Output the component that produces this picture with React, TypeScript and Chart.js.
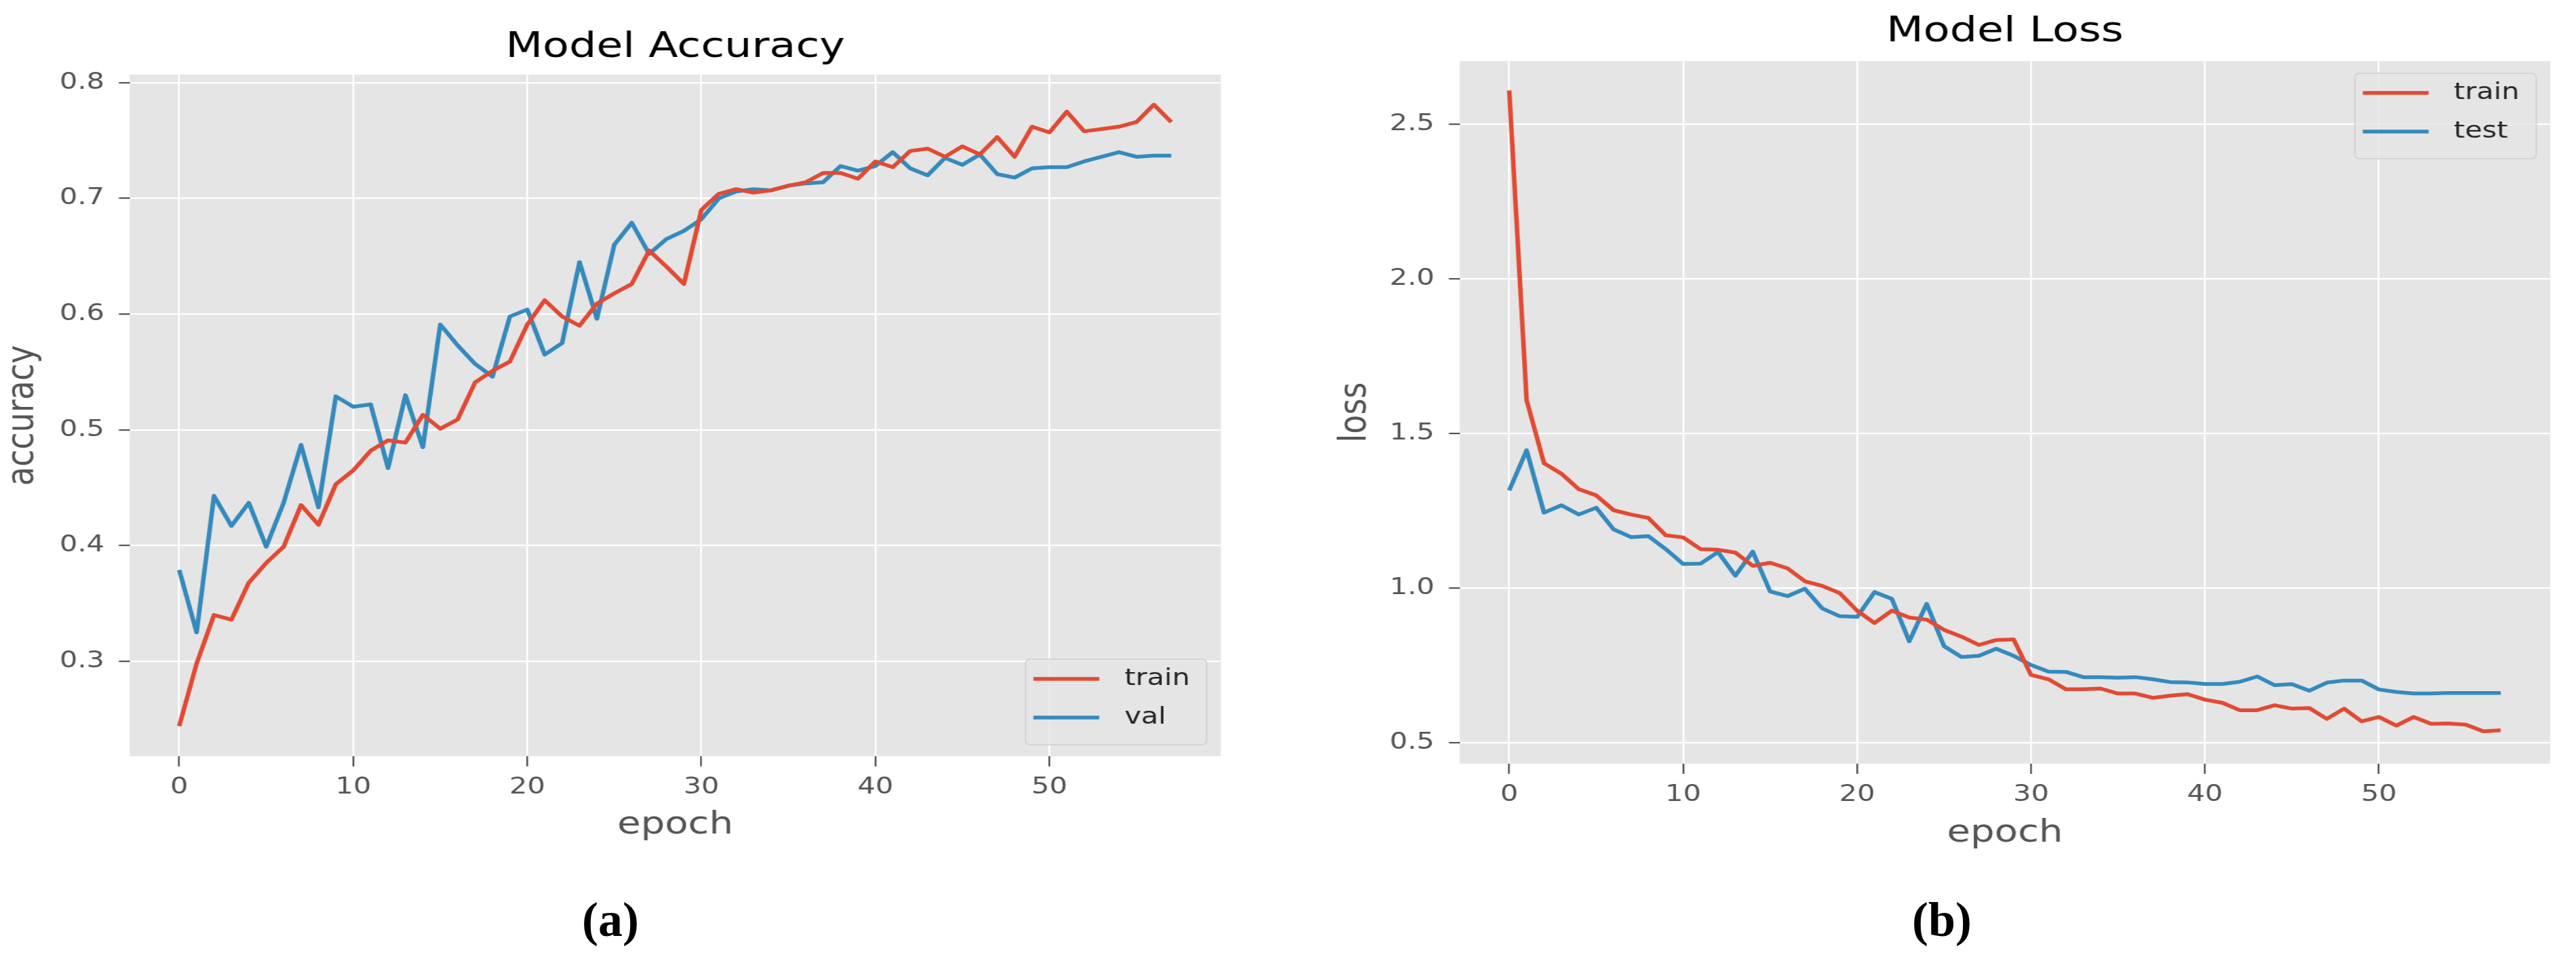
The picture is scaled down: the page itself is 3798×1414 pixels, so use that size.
import React, { useEffect, useRef } from "react";
import { Chart, registerables } from "chart.js";

Chart.register(...registerables);

// ---------------- data ----------------
const epochs = [
  0, 1, 2, 3, 4, 5, 6, 7, 8, 9, 10, 11, 12, 13, 14, 15, 16, 17, 18, 19,
  20, 21, 22, 23, 24, 25, 26, 27, 28, 29, 30, 31, 32, 33, 34, 35, 36, 37, 38, 39,
  40, 41, 42, 43, 44, 45, 46, 47, 48, 49, 50, 51, 52, 53, 54, 55, 56, 57,
];

const accTrain = [
  0.244, 0.298, 0.340, 0.336, 0.368, 0.385, 0.399, 0.435, 0.418, 0.453,
  0.465, 0.482, 0.491, 0.489, 0.513, 0.501, 0.509, 0.541, 0.551, 0.559,
  0.591, 0.612, 0.598, 0.590, 0.609, 0.618, 0.626, 0.655, 0.641, 0.626,
  0.690, 0.704, 0.708, 0.705, 0.707, 0.711, 0.714, 0.722, 0.722, 0.717,
  0.732, 0.727, 0.741, 0.743, 0.736, 0.745, 0.738, 0.753, 0.736, 0.762,
  0.757, 0.775, 0.758, 0.760, 0.762, 0.766, 0.781, 0.766,
];

const accVal = [
  0.379, 0.325, 0.443, 0.417, 0.437, 0.399, 0.437, 0.487, 0.433, 0.529,
  0.520, 0.522, 0.467, 0.530, 0.485, 0.591, 0.573, 0.557, 0.546, 0.598,
  0.604, 0.565, 0.575, 0.645, 0.596, 0.660, 0.679, 0.652, 0.665, 0.672,
  0.682, 0.700, 0.706, 0.708, 0.707, 0.711, 0.713, 0.714, 0.728, 0.724,
  0.728, 0.740, 0.726, 0.720, 0.735, 0.729, 0.738, 0.721, 0.718, 0.726,
  0.727, 0.727, 0.732, 0.736, 0.740, 0.736, 0.737, 0.737,
];

const lossTrain = [
  2.610, 1.608, 1.404, 1.370, 1.320, 1.300, 1.252, 1.238, 1.227, 1.171,
  1.164, 1.126, 1.124, 1.115, 1.072, 1.082, 1.064, 1.022, 1.007, 0.984,
  0.927, 0.887, 0.927, 0.905, 0.898, 0.865, 0.843, 0.816, 0.832, 0.834,
  0.719, 0.705, 0.673, 0.673, 0.675, 0.659, 0.659, 0.645, 0.652, 0.657,
  0.639, 0.629, 0.605, 0.605, 0.621, 0.610, 0.612, 0.577, 0.610, 0.569,
  0.583, 0.555, 0.583, 0.561, 0.562, 0.558, 0.537, 0.540,
];

const lossTest = [
  1.316, 1.446, 1.244, 1.268, 1.238, 1.260, 1.190, 1.165, 1.168, 1.126,
  1.078, 1.079, 1.117, 1.040, 1.118, 0.989, 0.974, 0.998, 0.934, 0.909,
  0.907, 0.987, 0.965, 0.828, 0.949, 0.812, 0.777, 0.781, 0.804, 0.781,
  0.751, 0.730, 0.729, 0.712, 0.712, 0.710, 0.712, 0.705, 0.696, 0.695,
  0.690, 0.690, 0.697, 0.714, 0.686, 0.689, 0.668, 0.694, 0.701, 0.701,
  0.672, 0.664, 0.659, 0.659, 0.661, 0.661, 0.661, 0.661,
];

const xTicks = [0, 10, 20, 30, 40, 50];
const accTicks = [0.3, 0.4, 0.5, 0.6, 0.7, 0.8];
const lossTicks = [0.5, 1.0, 1.5, 2.0, 2.5];

// ---------------- style ----------------
const S = 1.22; // horizontal stretch of the figure
const RED = "#E24A33";
const BLUE = "#348ABD";
const FONT = '"DejaVu Sans", sans-serif';
Chart.defaults.font.family = FONT;

type Panel = {
  left: number;
  width: number;
  height: number;
  title: string;
  titlePadTop: number;
  titlePadBottom: number;
  yLabel: string;
  yTitlePad: number;
  yAxisW: number;
  xAxisH: number;
  xTitlePadBottom: number;
  padRight: number;
  yMin: number;
  yMax: number;
  yTicks: number[];
  series: { label: string; color: string; values: number[] }[];
  legendCorner: "lr" | "ur";
};

function makeLegend(corner: "lr" | "ur") {
  return {
    id: "mplLegend",
    afterDatasetsDraw(chart: any) {
      const a = chart.chartArea;
      const ctx = chart.ctx as CanvasRenderingContext2D;
      const w = 219;
      const h = 126;
      const x = a.right - 17 - w;
      const y = corner === "lr" ? a.bottom - 17 - h : a.top + 18;
      ctx.save();
      ctx.beginPath();
      (ctx as any).roundRect(x, y, w, h, 6);
      ctx.fillStyle = "rgba(229,229,229,0.8)";
      ctx.fill();
      ctx.strokeStyle = "#cfcfcf";
      ctx.lineWidth = 1.5;
      ctx.stroke();
      chart.data.datasets.forEach((ds: any, i: number) => {
        const cy = y + 29 + i * 57;
        ctx.beginPath();
        ctx.moveTo(x + 9.5, cy);
        ctx.lineTo(x + 89, cy);
        ctx.strokeStyle = ds.borderColor;
        ctx.lineWidth = 5.5;
        ctx.stroke();
        ctx.fillStyle = "#262626";
        ctx.font = `34px ${FONT}`;
        ctx.textAlign = "left";
        ctx.textBaseline = "middle";
        ctx.fillText(ds.label, x + 119.5, cy);
      });
      ctx.restore();
    },
  };
}

const bgPlugin = {
  id: "plotBg",
  beforeDraw(chart: any) {
    const a = chart.chartArea;
    const ctx = chart.ctx;
    ctx.save();
    ctx.fillStyle = "#E5E5E5";
    ctx.fillRect(a.left, a.top, a.right - a.left, a.bottom - a.top);
    ctx.restore();
  },
};

function ChartPanel({ p }: { p: Panel }) {
  const ref = useRef<HTMLCanvasElement | null>(null);
  useEffect(() => {
    if (!ref.current) return;
    const chart = new Chart(ref.current, {
      type: "line",
      data: {
        datasets: p.series.map((s) => ({
          label: s.label,
          data: epochs.map((e, i) => ({ x: e, y: s.values[i] })),
          borderColor: s.color,
          backgroundColor: s.color,
          borderWidth: 5.5,
          pointRadius: 0,
          tension: 0,
          fill: false,
          borderJoinStyle: "round" as const,
        })),
      },
      options: {
        responsive: false,
        animation: false,
        devicePixelRatio: 1,
        layout: { padding: { left: 0, right: p.padRight, top: 0, bottom: 0 } },
        plugins: {
          legend: { display: false },
          tooltip: { enabled: false },
          title: {
            display: true,
            text: p.title,
            color: "#000",
            fullSize: false,
            font: { size: 52, weight: "normal", lineHeight: 1, family: FONT },
            padding: { top: p.titlePadTop, bottom: p.titlePadBottom },
          },
        },
        scales: {
          x: {
            type: "linear",
            min: -2.85,
            max: 59.85,
            afterBuildTicks: (ax: any) => {
              ax.ticks = xTicks.map((v) => ({ value: v }));
            },
            afterFit: (sc: any) => {
              sc.height = p.xAxisH;
            },
            grid: {
              color: "#ffffff",
              lineWidth: 2.2,
              drawTicks: true,
              tickLength: 15,
              tickColor: "#555555",
              tickWidth: 2.2,
            },
            border: { display: false },
            ticks: {
              color: "#555555",
              font: { size: 34 },
              padding: 10.5,
              autoSkip: false,
              maxRotation: 0,
              callback: (v: any) => String(v),
            },
            title: {
              display: true,
              text: "epoch",
              color: "#555555",
              font: { size: 46 },
              padding: { top: 0, bottom: p.xTitlePadBottom },
            },
          },
          y: {
            type: "linear",
            min: p.yMin,
            max: p.yMax,
            afterBuildTicks: (ax: any) => {
              ax.ticks = p.yTicks.map((v) => ({ value: v }));
            },
            afterFit: (sc: any) => {
              sc.width = p.yAxisW;
            },
            grid: {
              color: "#ffffff",
              lineWidth: 2.2,
              drawTicks: true,
              tickLength: 13,
              tickColor: "#555555",
              tickWidth: 2.2,
            },
            border: { display: false },
            ticks: {
              color: "#555555",
              font: { size: 34 },
              padding: 17.5,
              callback: (v: any) => Number(v).toFixed(1),
            },
            title: {
              display: true,
              text: p.yLabel,
              color: "#555555",
              font: { size: 46 },
              padding: { top: p.yTitlePad, bottom: 0 },
            },
          },
        },
      } as any,
      plugins: [bgPlugin, makeLegend(p.legendCorner)],
    });
    return () => chart.destroy();
  }, []);
  return (
    <div
      style={{
        position: "absolute",
        left: p.left,
        top: 0,
        width: p.width,
        height: p.height,
        transform: `scaleX(${S})`,
        transformOrigin: "0 0",
      }}
    >
      <canvas ref={ref} width={p.width} height={p.height} style={{ display: "block" }} />
    </div>
  );
}

const accPanel: Panel = {
  left: 0,
  width: 1500,
  height: 1300,
  title: "Model Accuracy",
  titlePadTop: 44,
  titlePadBottom: 14,
  yLabel: "accuracy",
  yTitlePad: 0.2,
  yAxisW: 156.6,
  xAxisH: 185,
  xTitlePadBottom: 55.4,
  padRight: 24.6,
  yMin: 0.218,
  yMax: 0.807,
  yTicks: accTicks,
  series: [
    { label: "train", color: RED, values: accTrain },
    { label: "val", color: BLUE, values: accVal },
  ],
  legendCorner: "lr",
};

const lossPanel: Panel = {
  left: 1900,
  width: 1556,
  height: 1300,
  title: "Model Loss",
  titlePadTop: 21,
  titlePadBottom: 17,
  yLabel: "loss",
  yTitlePad: 53.2,
  yAxisW: 206.6,
  xAxisH: 174,
  xTitlePadBottom: 43.4,
  padRight: 31.4,
  yMin: 0.432,
  yMax: 2.705,
  yTicks: lossTicks,
  series: [
    { label: "train", color: RED, values: lossTrain },
    { label: "test", color: BLUE, values: lossTest },
  ],
  legendCorner: "ur",
};

const captionStyle = (cx: number): React.CSSProperties => ({
  position: "absolute",
  left: cx - 100,
  width: 200,
  top: 1320,
  textAlign: "center",
  font: 'bold 72px "Liberation Serif", "DejaVu Serif", serif',
  lineHeight: "72px",
  color: "#000",
});

export default function App() {
  return (
    <div
      style={{
        position: "absolute",
        left: 0,
        top: 0,
        width: 3798,
        height: 1414,
        background: "#ffffff",
        overflow: "hidden",
      }}
    >
      <ChartPanel p={accPanel} />
      <ChartPanel p={lossPanel} />
      <div style={captionStyle(900)}>(a)</div>
      <div style={captionStyle(2863)}>(b)</div>
    </div>
  );
}
